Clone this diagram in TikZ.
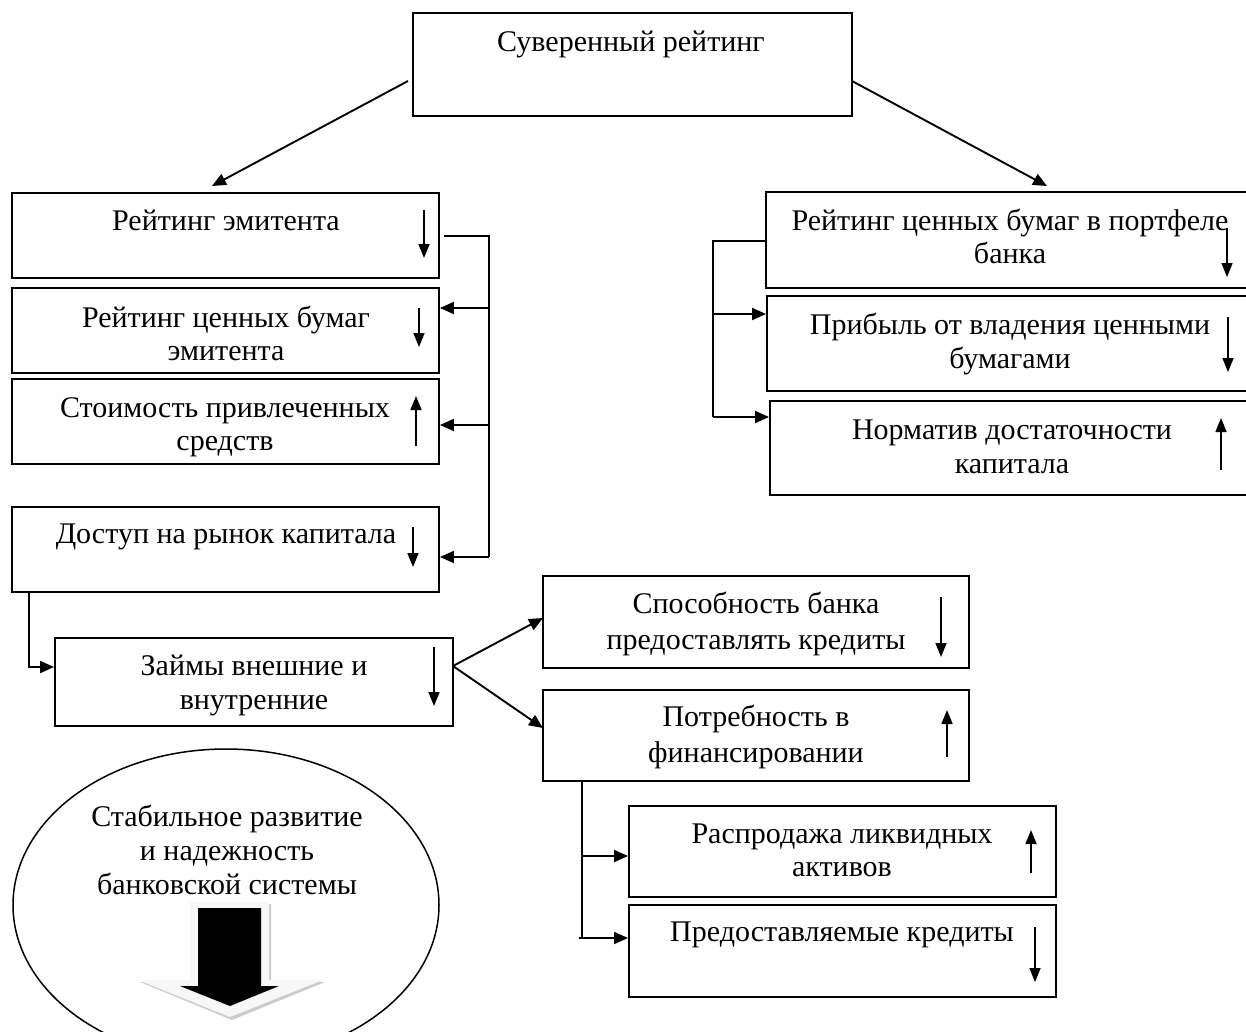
\documentclass[tikz,border=0pt]{standalone}
\usepackage{fontspec}
\setmainfont{Liberation Serif}
\usetikzlibrary{arrows.meta,shapes.geometric,calc}
\begin{document}
\begin{tikzpicture}[x=1pt,y=-1pt,
  box/.style={draw, line width=1.9pt, inner sep=0pt, rectangle},
  txt/.style={anchor=base, inner sep=0pt, font=\fontsize{30}{34}\selectfont},
  conn/.style={line width=1.9pt},
  arr/.style={conn, -{Triangle[length=14pt,width=12pt]}},
  ind/.style={line width=1.6pt, -{Triangle[length=14pt,width=11pt]}}]
\useasboundingbox (0,0) rectangle (1246,1032);
\fill[white] (0,0) rectangle (1246,1032);
\clip (0,0) rectangle (1246,1032);

% boxes
\node[box, minimum width=439pt, minimum height=103pt] (top) at (632.5,64.5) {};
\node[box, minimum width=427pt, minimum height=85pt] (b1) at (225.5,235.5) {};
\node[box, minimum width=427pt, minimum height=85pt] (b2) at (225.5,330.5) {};
\node[box, minimum width=427pt, minimum height=85pt] (b3) at (225.5,421.5) {};
\node[box, minimum width=427pt, minimum height=85pt] (b4) at (225.5,549.5) {};
\node[box, minimum width=398pt, minimum height=88pt] (b5) at (254,682) {};
\node[box, minimum width=426pt, minimum height=92pt] (sp) at (756,622) {};
\node[box, minimum width=426pt, minimum height=91pt] (pot) at (756,735.5) {};
\node[box, minimum width=427pt, minimum height=91pt] (rasp) at (842.5,851.5) {};
\node[box, minimum width=427pt, minimum height=92pt] (pred) at (842.5,951) {};
\node[box, minimum width=486pt, minimum height=96pt] (r1) at (1009,240) {};
\node[box, minimum width=485pt, minimum height=95pt] (r2) at (1009.5,343.5) {};
\node[box, minimum width=482pt, minimum height=94pt] (r3) at (1011,448) {};
\node[draw, line width=1.5pt, ellipse, inner sep=0pt, minimum width=426pt, minimum height=312pt] (el) at (226,905) {};

% texts
\node[txt] (ttop) at (631,52) {Суверенный рейтинг};
\node[txt] (t1) at (226,231) {Рейтинг эмитента};
\node[txt] (t2a) at (226,327) {Рейтинг ценных бумаг};
\node[txt] (t2b) at (226,360) {эмитента};
\node[txt] (t3a) at (225,417) {Стоимость привлеченных};
\node[txt] (t3b) at (225,450) {средств};
\node[txt] (t4) at (226,543) {Доступ на рынок капитала};
\node[txt] (t5a) at (254,675) {Займы внешние и};
\node[txt] (t5b) at (254,709) {внутренние};
\node[txt] (tsa) at (756,613) {Способность банка};
\node[txt] (tsb) at (756,649) {предоставлять кредиты};
\node[txt] (tpa) at (756,726) {Потребность в};
\node[txt] (tpb) at (756,762) {финансировании};
\node[txt] (tra) at (842,843) {Распродажа ликвидных};
\node[txt] (trb) at (842,876) {активов};
\node[txt] (tpr) at (842,941) {Предоставляемые кредиты};
\node[txt] (tr1a) at (1010,230) {Рейтинг ценных бумаг в портфеле};
\node[txt] (tr1b) at (1010,263) {банка};
\node[txt] (tr2a) at (1010,334) {Прибыль от владения ценными};
\node[txt] (tr2b) at (1010,368) {бумагами};
\node[txt] (tr3a) at (1012,439) {Норматив достаточности};
\node[txt] (tr3b) at (1012,473) {капитала};
\node[txt] (tea) at (227,826) {Стабильное развитие};
\node[txt] (teb) at (227,860) {и надежность};
\node[txt] (tec) at (227,894) {банковской системы};

% top connectors
\coordinate (tl) at (408,81);
\coordinate (tr) at (852,81);
\coordinate (b1tip) at (212,186);
\coordinate (r1tip) at (1047,186);
\draw[arr] (tl) -- (b1tip);
\draw[arr] (tr) -- (r1tip);

% left column connectors
\coordinate (l1) at (489,236);
\coordinate (l2) at (489,308);
\coordinate (l3) at (489,425);
\coordinate (l4) at (489,557);
\draw[conn] ([xshift=4pt]b1.east |- l1) -- (l1) -- (l4);
\draw[arr] (l2) -- (b2.east |- l2);
\draw[arr] (l3) -- (b3.east |- l3);
\draw[arr] (l4) -- (b4.east |- l4);

% right column connectors
\coordinate (q1) at (713,241);
\coordinate (q2) at (713,314);
\coordinate (q3) at (713,417);
\draw[conn] (r1.west |- q1) -- (q1) -- (q3);
\draw[arr] (q2) -- (r2.west |- q2);
\draw[arr] (q3) -- (r3.west |- q3);

% b4 -> b5
\coordinate (d1) at (29,592);
\coordinate (d2) at (29,667);
\draw[arr] (d1) -- (d2) -- (b5.west |- d2);

% b5 -> sp, pot
\coordinate (f) at (453,666);
\coordinate (fs) at (543,618);
\coordinate (fp) at (543,728);
\draw[arr] (f) -- (fs);
\draw[arr] (f) -- (fp);

% pot -> rasp, pred
\coordinate (p1) at (582,781);
\coordinate (p2) at (582,856);
\coordinate (p3) at (582,938);
\draw[conn] (p1) -- (p3);
\draw[arr] (p2) -- (rasp.west |- p2);
\draw[arr] ([xshift=-3pt]p3) -- (pred.west |- p3);

% indicator arrows
\draw[ind] (424,210) -- (424,258);
\draw[ind] (419,308) -- (419,347);
\draw[ind] (416,446) -- (416,396);
\draw[ind] (413,527) -- (413,567);
\draw[ind] (434,647) -- (434,706);
\draw[ind] (941,597) -- (941,657);
\draw[ind] (947,757) -- (947,710);
\draw[ind] (1031,873) -- (1031,830);
\draw[ind] (1035,927) -- (1035,982);
\draw[ind] (1227,228) -- (1227,277);
\draw[ind] (1228,317) -- (1228,372);
\draw[ind] (1221,470) -- (1221,418);

% block arrow in ellipse
\fill[gray!40] (192,904) -- (271,904) -- (271,982) -- (325,982) -- (232,1020) -- (140,982) -- (192,982) -- cycle;
\fill[gray!6] (190,902) -- (269,902) -- (269,980) -- (323,980) -- (230,1017) -- (138,980) -- (190,980) -- cycle;
\fill[black] (198,908) -- (261,908) -- (261,986) -- (279,986) -- (230,1006) -- (180,986) -- (198,986) -- cycle;
\end{tikzpicture}
\end{document}
